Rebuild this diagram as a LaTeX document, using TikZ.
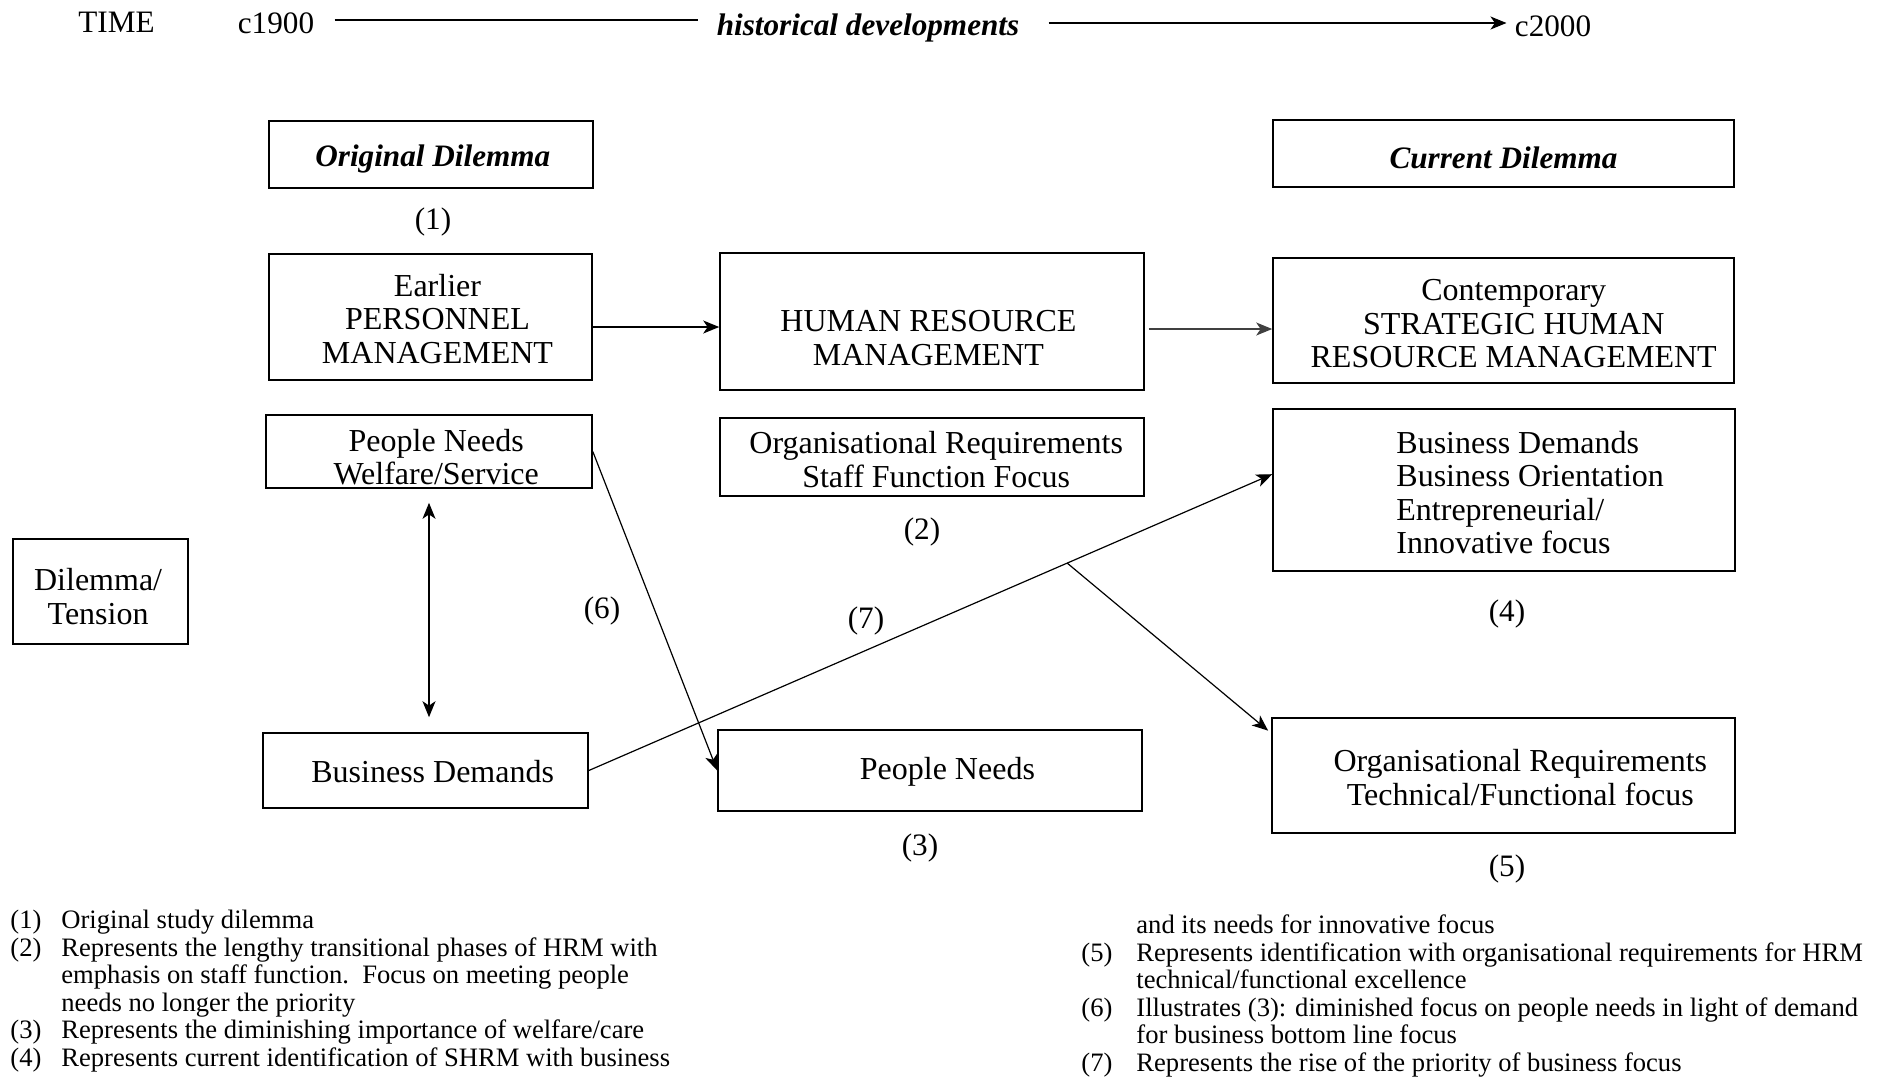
\documentclass[tikz,border=0pt]{standalone}
\usepackage{fontspec}
\setmainfont{Liberation Serif}
\usetikzlibrary{arrows.meta,calc}

% box text nudged by #1/2 to the right and #2 up, lines stacked and centred
\newcommand\boxtext[3]{\raisebox{#2}[\height][\depth]{\hspace*{#1}\begin{tabular}{@{}c@{}}#3\end{tabular}}}

\begin{document}
\begin{tikzpicture}[x=0.5pt,y=-0.5pt,
  every node/.style={font=\fontsize{16}{16.8}\selectfont},
  box/.style={draw, line width=0.8pt, align=center, inner sep=0pt},
  head/.style={font=\fontsize{15.6}{16.8}\selectfont\bfseries\itshape},
  tl/.style={inner sep=0pt},
  tag/.style={inner sep=1pt, font=\fontsize{15.6}{16.8}\selectfont},
  tip/.tip={Stealth[length=8pt,width=6.5pt,inset=2.2pt]},
  link/.style={line width=0.6pt, -tip},
  fn/.style={font=\fontsize{13.3}{13.8}\selectfont, inner sep=0pt, anchor=base west}]
\useasboundingbox (0,0) rectangle (1882,1077);

% time line across the top
\node[tl, anchor=west, font=\fontsize{15.6}{16.8}\selectfont] (time) at (78,22) {TIME};
\node[tl, font=\fontsize{15.6}{16.8}\selectfont] (c1) at (276,23) {c1900};
\node[tl, head] (hd) at (868,28) {historical developments};
\node[tl, font=\fontsize{15.6}{16.8}\selectfont] (c2) at (1553,26) {c2000};
\draw[line width=0.6pt, shorten <=10pt, shorten >=9pt]
  ([yshift=1.5pt]c1.east) -- ([yshift=1.5pt]c1.east -| hd.west);
\draw[link, shorten <=14.5pt, shorten >=4pt]
  ([yshift=1.5pt]c2.west -| hd.east) -- ([yshift=1.5pt]c2.west);

% dilemma headings
\node[box, head, minimum width=162pt, minimum height=33.5pt] (od) at (431,154.5) {\boxtext{1.8pt}{-2.4pt}{Original Dilemma}};
\node[box, head, minimum width=230.5pt, minimum height=33.5pt] (cd) at (1503.5,153.5) {\boxtext{0pt}{-4.2pt}{Current Dilemma}};
\node[tag] (n1) at (433,222) {(1)};

% management stages
\node[box, minimum width=161.5pt, minimum height=63pt] (pm) at (430.5,317)
  {\boxtext{7pt}{-3pt}{Earlier\\PERSONNEL\\MANAGEMENT}};
\node[box, minimum width=212pt, minimum height=68.5pt] (hrm) at (932,321.5)
  {\boxtext{-3.6pt}{-10.2pt}{HUMAN RESOURCE\\MANAGEMENT}};
\node[box, minimum width=230.5pt, minimum height=62.5pt] (shrm) at (1503.5,320.5)
  {\boxtext{10.2pt}{-3.4pt}{Contemporary\\STRATEGIC HUMAN\\RESOURCE MANAGEMENT}};

% focus boxes
\node[box, minimum width=163pt, minimum height=36.5pt] (pnw) at (429,451.5)
  {\boxtext{7.2pt}{-4.8pt}{People Needs\\Welfare/Service}};
\node[box, minimum width=212pt, minimum height=39pt] (ors) at (932,457)
  {\boxtext{4.2pt}{-3.3pt}{Organisational Requirements\\Staff Function Focus}};
\node[box, minimum width=231pt, minimum height=81pt] (bdo) at (1504,490) {};
\node[tl, anchor=west, align=left] (bdo-text) at (1396,492.5)
  {Business Demands\\Business Orientation\\Entrepreneurial/\\Innovative focus};
\node[tag] (n2) at (922,532) {(2)};
\node[tag] (n4) at (1507,614) {(4)};

\node[box, minimum width=87.5pt, minimum height=52.5pt] (dt) at (100.5,591.5)
  {\boxtext{-2.4pt}{-4.5pt}{Dilemma/\\Tension}};

\node[box, minimum width=162.5pt, minimum height=37.5pt] (bd) at (425.5,770.5)
  {\boxtext{7.2pt}{-2.4pt}{Business Demands}};
\node[box, minimum width=212pt, minimum height=40.5pt] (pn) at (930,770.5)
  {\boxtext{17.4pt}{-1.2pt}{People Needs}};
\node[box, minimum width=231.5pt, minimum height=57.5pt] (ort) at (1503.5,775.5)
  {\boxtext{16.8pt}{-3pt}{Organisational Requirements\\Technical/Functional focus}};
\node[tag] (n3) at (920,848) {(3)};
\node[tag] (n5) at (1507,869) {(5)};
\node[tag] (n6) at (602,611) {(6)};
\node[tag] (n7) at (866,621) {(7)};

% connectors
\draw[link] ([yshift=-5pt]pm.east) -- ([yshift=-5pt]pm.east -| hrm.west);
\draw[link, draw=black!75, shorten <=2pt] ([yshift=-3.75pt]hrm.east) -- ([yshift=-3.75pt]hrm.east -| shrm.west);
\draw[link, tip-tip, shorten <=7pt, shorten >=7.5pt] (pnw.south) -- (pnw.south |- bd.north);
\draw[link] (pnw.east) -- (pn.west);
\draw[link] (bd.east) -- coordinate[pos=0.7] (split) ([yshift=-33pt]bdo.north west);
\draw[link, shorten >=2pt] (split) -- ([yshift=-8pt]ort.north west);

% notes
\node[fn] (notes-left) at (10,928.4) {\begin{tabular}[t]{@{}p{25.5pt}@{}l@{}}
(1) & Original study dilemma\\
(2) & Represents the lengthy transitional phases of HRM with\\
    & emphasis on staff function.\ \ Focus on meeting people\\
    & needs no longer the priority\\
(3) & Represents the diminishing importance of welfare/care\\
(4) & Represents current identification of SHRM with business
\end{tabular}};
\node[fn] (notes-right) at (1081,933.4) {\begin{tabular}[t]{@{}p{27.5pt}@{}l@{}}
    & and its needs for innovative focus\\
(5) & Represents identification with organisational requirements for HRM\\
    & technical/functional excellence\\
(6) & Illustrates (3): diminished focus on people needs in light of demand\\
    & for business bottom line focus\\
(7) & Represents the rise of the priority of business focus
\end{tabular}};
\end{tikzpicture}
\end{document}
